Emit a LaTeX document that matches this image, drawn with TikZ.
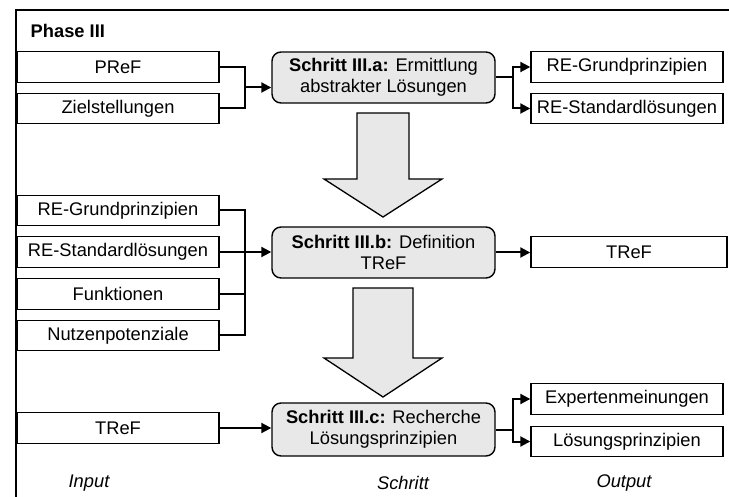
\documentclass[tikz,border=0pt]{standalone}
\usepackage{fontspec}
\setmainfont{Liberation Sans}
\usetikzlibrary{arrows.meta,calc}
\definecolor{stepgray}{HTML}{E8E8E8}
\tikzset{
  base/.style={font=\fontsize{18.3}{20.5}\selectfont, inner sep=0pt, line width=1.4pt},
  iobox/.style={base, draw, rectangle, minimum height=30.5pt},
  stepbox/.style={base, draw, fill=stepgray, rounded corners=9pt, minimum width=223pt, minimum height=51pt, align=center},
  conn/.style={line width=2pt},
  arr/.style={conn, -{Triangle[length=10pt,width=10pt]}},
  bigarrow/.style={draw, fill=stepgray, line width=1.3pt, line join=miter},
  lab/.style={font=\fontsize{18.3}{20.5}\selectfont\itshape, inner sep=0pt}
}
\begin{document}
\begin{tikzpicture}[x=1pt,y=-1pt]
\useasboundingbox (0,0) rectangle (729,497);
% frame
\draw[line width=1.5pt] (16,500) -- (16,10) -- (732,10);
\node[base, font=\fontsize{18.3}{20.5}\selectfont\bfseries, anchor=west] (phase) at (30,31) {Phase III};

% row a
\node[iobox, minimum width=202pt] (pref) at (118,67) {PReF};
\node[iobox, minimum width=202pt] (ziel) at (118,108.5) {Zielstellungen};
\node[stepbox] (sa) at (383.5,77.5) {\textbf{Schritt III.a:} Ermittlung\\abstrakter Lösungen};
\node[iobox, minimum width=192pt] (reg1) at (627,67) {RE-Grundprinzipien};
\node[iobox, minimum width=192pt] (res1) at (627,108.5) {RE-Standardlösungen};
\draw[conn] (pref.east) -| (245,87.5) coordinate (busa) |- (ziel.east);
\draw[arr] (busa) -- (sa.west |- busa);
\coordinate (spa) at ($(sa.east)+(17,0)$);
\draw[conn] (sa.east) -- (spa);
\draw[arr] (spa) |- (reg1.west);
\draw[arr] (spa) |- (res1.west);

% big arrow 1
\draw[bigarrow] (357,113) -- (409,113) -- (409,179) -- (442,179) -- (383,217) -- (324,179) -- (357,179) -- cycle;

% row b
\node[iobox, minimum width=202pt] (reg2) at (118,210.5) {RE-Grundprinzipien};
\node[iobox, minimum width=202pt] (res2) at (118,252) {RE-Standardlösungen};
\node[iobox, minimum width=202pt] (fkt) at (118,294) {Funktionen};
\node[iobox, minimum width=202pt] (nutz) at (118,335.5) {Nutzenpotenziale};
\node[stepbox] (sb) at (383.5,252.5) {\textbf{Schritt III.b:} Definition\\TReF};
\node[iobox, minimum width=196pt] (tref1) at (629,252) {TReF};
\draw[conn] (reg2.east) -| (245,252) coordinate (busb) |- (nutz.east);
\draw[conn] (fkt.east) -- (fkt.east -| busb);
\draw[arr] (res2.east) -- (sb.west |- res2.east);
\draw[arr] (sb.east) -- (tref1.west |- sb.east);

% big arrow 2
\draw[bigarrow] (353,288) -- (413,288) -- (413,358) -- (442,358) -- (383,397) -- (324,358) -- (353,358) -- cycle;

% row c
\node[iobox, minimum width=202pt] (tref2) at (118,428) {TReF};
\node[stepbox, minimum height=53pt] (sc) at (383.5,429.5) {\textbf{Schritt III.c:} Recherche\\Lösungsprinzipien};
\node[iobox, minimum width=192pt] (exp) at (627,399) {Expertenmeinungen};
\node[iobox, minimum width=192pt] (lsp) at (627,441.5) {Lösungsprinzipien};
\draw[arr] (tref2.east) -- (sc.west |- tref2.east);
\coordinate (spc) at ($(sc.east)+(17,0)$);
\draw[conn] (sc.east) -- (spc);
\draw[arr] (spc) |- (exp.west);
\draw[arr] (spc) |- (lsp.west);

% labels
\node[lab] (lin) at (89,483) {Input};
\node[lab] (lsch) at (403,483) {Schritt};
\node[lab] (lout) at (624,483) {Output};
\end{tikzpicture}
\end{document}
